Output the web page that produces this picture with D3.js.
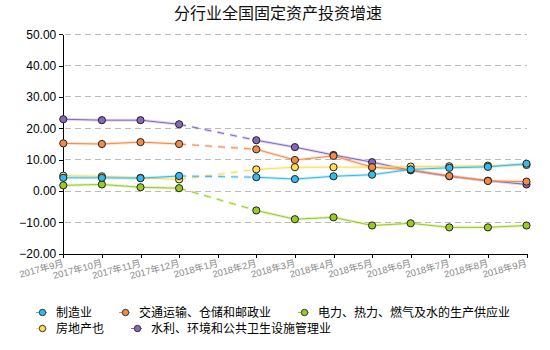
<!DOCTYPE html>
<html><head><meta charset="utf-8">
<script src="https://cdn.jsdelivr.net/npm/d3@7/dist/d3.min.js"></script>
<style>body{margin:0;background:#fff}svg{display:block}</style>
</head><body><svg id="c" width="550" height="350"></svg>
<script>
const title = "分行业全国固定资产投资增速";
const months = ["2017年9月","2017年10月","2017年11月","2017年12月","2018年1月","2018年2月","2018年3月","2018年4月","2018年5月","2018年6月","2018年7月","2018年8月","2018年9月"];
const yTicks = [-20,-10,0,10,20,30,40,50];
const seriesNames = ["制造业","交通运输、仓储和邮政业","电力、热力、燃气及水的生产供应业","房地产也","水利、环境和公共卫生设施管理业"];
const manufacturing = [4.2,4.2,4.1,4.8,null,4.4,3.8,4.7,5.2,6.9,7.4,7.7,8.7];
const transport = [15.2,15.0,15.6,15.0,null,13.3,9.9,11.2,7.6,6.7,4.8,3.2,3.0];
const power = [1.8,2.1,1.2,0.9,null,-6.2,-9.0,-8.4,-11.0,-10.3,-11.6,-11.6,-11.0];
const realEstate = [4.9,4.7,4.2,3.7,null,6.9,7.6,7.6,7.6,7.8,7.9,8.1,8.3];
const water = [22.9,22.6,22.6,21.3,null,16.2,14.0,11.5,9.2,6.6,4.7,3.3,2.1];
const seriesValues = [manufacturing, transport, power, realEstate, water];
const colors = ["#33bbee","#f58a45","#99cc22","#ffdd55","#8866bb"];

const svg = d3.select("#c");
const x = d3.scalePoint().domain(months).range([63.3, 526.5]);
const y = d3.scaleLinear().domain([-20, 50]).range([253.7, 34.3]);
const latin = "'Liberation Sans', Arial, 'Noto Sans CJK SC', sans-serif";
const cjk = "'Noto Sans CJK SC', sans-serif";

svg.append("text").attr("x", 278).attr("y", 19).attr("text-anchor", "middle")
  .style("font-family", cjk).style("font-size", "16px").attr("fill", "#111").text(title);

// grid
svg.append("g").selectAll("line").data(yTicks.filter(t => t > -20)).join("line")
  .attr("x1", 65).attr("x2", 526.5).attr("y1", d => y(d)).attr("y2", d => y(d))
  .attr("stroke", "#bbb").attr("stroke-dasharray", "6,4").attr("stroke-width", 1)
  .attr("shape-rendering", "crispEdges");

// y axis
const ya = svg.append("g").attr("transform", "translate(63.3,0)")
  .call(d3.axisLeft(y).tickValues(yTicks).tickFormat(d3.format(".2f")).tickSize(4).tickSizeOuter(0));
ya.select(".domain").attr("stroke", "#000").attr("shape-rendering", "crispEdges");
ya.selectAll(".tick line").attr("stroke", "#000").attr("shape-rendering", "crispEdges");
ya.selectAll("text").style("font-family", latin).style("font-size", "12px").attr("fill", "#000").attr("x", -7);

// x axis
const xa = svg.append("g").attr("transform", `translate(0,${y(-20)})`)
  .call(d3.axisBottom(x).tickSize(4).tickSizeOuter(0));
xa.select(".domain").attr("stroke", "#000").attr("shape-rendering", "crispEdges");
xa.selectAll(".tick line").attr("stroke", "#000").attr("shape-rendering", "crispEdges");
xa.selectAll("text").remove();
svg.append("g").selectAll("text").data(months).join("text")
  .attr("transform", d => `translate(${x(d) + 1},${266}) rotate(-15)`)
  .attr("text-anchor", "end")
  .style("font-family", latin).style("font-size", "9.5px").attr("fill", "#888").text(d => d);

// series
const idx = months.map((m, i) => i);
const order = [4, 3, 2, 1, 0];
const lineGen = d3.line().defined(d => d.v != null).x(d => x(months[d.i])).y(d => y(d.v));
order.forEach(s => {
  const vals = seriesValues[s];
  const pts = idx.map(i => ({i, v: vals[i]}));
  const g = svg.append("g");
  const valid = pts.filter(d => d.v != null);
  const gaps = [];
  for (let k = 0; k < valid.length - 1; k++) {
    if (valid[k + 1].i - valid[k].i > 1) gaps.push([valid[k], valid[k + 1]]);
  }
  gaps.forEach(gp => {
    const d = d3.line().x(p => x(months[p.i])).y(p => y(p.v))(gp);
    g.append("path").attr("d", d).attr("fill", "none").attr("stroke", colors[s])
      .attr("stroke-opacity", 0.25).attr("stroke-width", 3).attr("stroke-dasharray", "7,6");
    g.append("path").attr("d", d).attr("fill", "none").attr("stroke", colors[s])
      .attr("stroke-width", 1).attr("stroke-dasharray", "7,6");
  });
  g.append("path").attr("d", lineGen(pts)).attr("fill", "none")
    .attr("stroke", colors[s]).attr("stroke-opacity", 0.25).attr("stroke-width", 3);
  g.append("path").attr("d", lineGen(pts)).attr("fill", "none")
    .attr("stroke", colors[s]).attr("stroke-width", 1);
  g.selectAll("circle").data(valid).join("circle")
    .attr("cx", d => x(months[d.i])).attr("cy", d => y(d.v)).attr("r", 3.6)
    .attr("fill", colors[s]).attr("stroke", "#222").attr("stroke-width", 1);
});

// legend
const leg = svg.append("g");
let lx = 36, ly = 312.5;
seriesNames.forEach((name, s) => {
  const item = leg.append("g");
  const t = item.append("text").attr("x", 20).attr("y", 0).attr("dy", "0.35em")
    .style("font-family", cjk).style("font-size", "12px").attr("fill", "#000").text(name);
  const w = t.node().getComputedTextLength();
  if (lx + 20 + w > 530) { lx = 36; ly += 16; }
  item.attr("transform", `translate(${lx},${ly})`);
  item.append("line").attr("x1", 0).attr("x2", 11).attr("y1", 0).attr("y2", 0)
    .attr("stroke", colors[s]).attr("stroke-width", 1);
  item.append("circle").attr("cx", 6.5).attr("cy", 0).attr("r", 3.2)
    .attr("fill", colors[s]).attr("stroke", "#333").attr("stroke-width", 1);
  lx += 20 + w + 27;
});
</script></body></html>
